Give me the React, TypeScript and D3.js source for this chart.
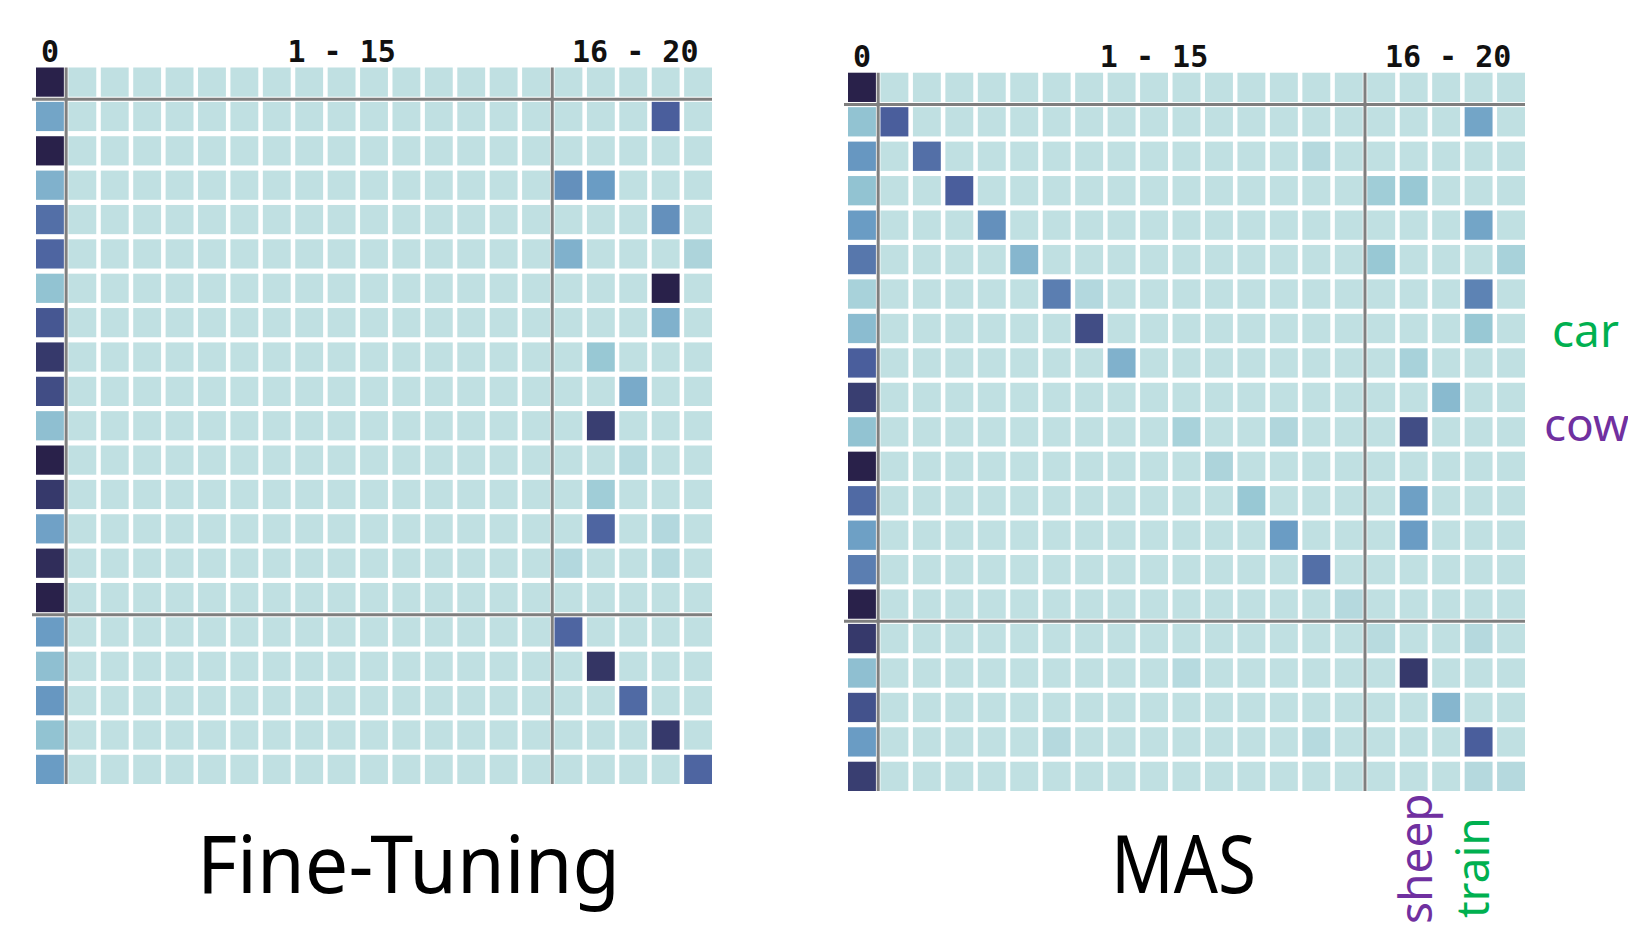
import { select, scaleBand, scaleLinear, range } from "d3";
import React, { useEffect, useRef } from "react";

const SIZE = 21;
const groupLabels = ["0", "1 - 15", "16 - 20"];
const groupLabelCols = [0, 9, 18];
const groupBreaks = [1, 16];

// column 0 (background class) of each confusion matrix, rows 0..20
const fineTuningFirstCol = [
  1.0, 0.45, 1.0, 0.38, 0.68, 0.72, 0.28, 0.78, 0.9, 0.82, 0.3, 1.0, 0.9, 0.47,
  0.95, 1.0, 0.5, 0.3, 0.52, 0.28, 0.5,
];
// [row, col, value] for the other non-empty cells
const fineTuningCells = [
  [1, 19, 0.75], [3, 16, 0.55], [3, 17, 0.5], [4, 19, 0.55], [5, 16, 0.38],
  [5, 20, 0.12], [6, 19, 1.0], [7, 19, 0.38], [8, 17, 0.25], [9, 18, 0.42],
  [10, 17, 0.88], [11, 18, 0.06], [12, 17, 0.2], [13, 17, 0.72], [13, 19, 0.08],
  [14, 16, 0.08], [14, 19, 0.06], [16, 16, 0.72], [17, 17, 0.92], [18, 18, 0.7],
  [19, 19, 0.9], [20, 20, 0.72],
];

const masFirstCol = [
  1.0, 0.28, 0.52, 0.28, 0.5, 0.65, 0.15, 0.32, 0.75, 0.88, 0.28, 1.0, 0.7, 0.48,
  0.62, 1.0, 0.9, 0.3, 0.8, 0.5, 0.88,
];
const masCells = [
  [1, 1, 0.75], [2, 2, 0.68], [3, 3, 0.75], [4, 4, 0.55], [5, 5, 0.35],
  [6, 6, 0.62], [6, 7, 0.08], [7, 7, 0.82], [8, 8, 0.38], [10, 10, 0.15],
  [10, 13, 0.1], [11, 11, 0.12], [12, 12, 0.25], [13, 13, 0.5], [14, 14, 0.68],
  [15, 15, 0.07], [1, 19, 0.45], [2, 14, 0.07], [3, 16, 0.2], [3, 17, 0.25],
  [4, 19, 0.45], [5, 16, 0.25], [5, 20, 0.15], [6, 19, 0.6], [7, 19, 0.25],
  [8, 17, 0.15], [9, 18, 0.33], [10, 17, 0.82], [12, 17, 0.48], [13, 17, 0.5],
  [16, 16, 0.05], [16, 19, 0.07], [17, 17, 0.9], [17, 10, 0.06], [18, 18, 0.35],
  [19, 19, 0.75], [19, 6, 0.07], [19, 14, 0.06], [20, 19, 0.07], [20, 20, 0.07],
];

const color = scaleLinear<string>()
  .domain([0, 0.25, 0.5, 0.75, 1])
  .range(["#c0e0e2", "#98c8d4", "#6a9cc4", "#4a5e9c", "#29214a"])
  .clamp(true);

const buildCells = (firstCol: number[], cells: number[][]) => {
  const m = range(SIZE).map((r) => range(SIZE).map((c) => (c === 0 ? firstCol[r] : 0)));
  cells.forEach(([r, c, v]) => (m[r][c] = v));
  return m.flatMap((row, r) => row.map((v, c) => ({ r, c, v })));
};

const drawMatrix = (svg, cells, x0, x1, y0, y1) => {
  const x = scaleBand<number>().domain(range(SIZE)).range([x0, x1]).paddingInner(0.14);
  const y = scaleBand<number>().domain(range(SIZE)).range([y0, y1]).paddingInner(0.15);
  const g = svg.append("g");

  g.selectAll("rect")
    .data(cells)
    .enter()
    .append("rect")
    .attr("x", (d) => x(d.c))
    .attr("y", (d) => y(d.r))
    .attr("width", x.bandwidth())
    .attr("height", y.bandwidth())
    .attr("fill", (d) => color(d.v));

  const gapX = (i) => (x(i - 1) + x.bandwidth() + x(i)) / 2;
  const gapY = (i) => (y(i - 1) + y.bandwidth() + y(i)) / 2;

  groupBreaks.forEach((b) => {
    g.append("line")
      .attr("x1", gapX(b)).attr("x2", gapX(b))
      .attr("y1", y0).attr("y2", y1)
      .attr("stroke", "#7f7f7f").attr("stroke-width", 3);
    g.append("line")
      .attr("x1", x0 - 4).attr("x2", x1)
      .attr("y1", gapY(b)).attr("y2", gapY(b))
      .attr("stroke", "#7f7f7f").attr("stroke-width", 3);
  });

  g.selectAll(".group-label")
    .data(groupLabels)
    .enter()
    .append("text")
    .attr("class", "group-label")
    .text((d) => d)
    .attr("x", (_, i) => x(groupLabelCols[i]) + x.bandwidth() / 2 + (i === 2 ? 2 : 0))
    .attr("y", y0 - 5.5)
    .attr("text-anchor", "middle")
    .attr("font-family", "DejaVu Sans Mono")
    .attr("font-weight", "bold")
    .attr("font-size", 30)
    .attr("fill", "#111");
};

const App = () => {
  const svgRef = useRef(null);

  useEffect(() => {
    document.body.style.margin = "0";
    const svg = select(svgRef.current);
    svg.selectAll("*").remove();

    drawMatrix(svg, buildCells(fineTuningFirstCol, fineTuningCells), 36, 712, 67.5, 784);
    drawMatrix(svg, buildCells(masFirstCol, masCells), 848, 1525, 72.7, 791);

    const titles = [
      { text: "Fine-Tuning", x: 408.5, len: 423 },
      { text: "MAS", x: 1183.5, len: 145 },
    ];
    svg.selectAll(".title")
      .data(titles)
      .enter()
      .append("text")
      .attr("class", "title")
      .text((d) => d.text)
      .attr("x", (d) => d.x)
      .attr("y", 893)
      .attr("text-anchor", "middle")
      .attr("textLength", (d) => d.len)
      .attr("lengthAdjust", "spacingAndGlyphs")
      .attr("font-family", "Noto Sans")
      .attr("font-size", 80)
      .attr("fill", "#000");

    const notes = [
      { text: "car", x: 1552, y: 347, fill: "#00b050", rotate: false },
      { text: "cow", x: 1544, y: 441, fill: "#7030a0", rotate: false },
      { text: "sheep", x: 1431.5, y: 924, fill: "#7030a0", rotate: true },
      { text: "train", x: 1488.5, y: 918, fill: "#00b050", rotate: true },
    ];
    svg.selectAll(".note")
      .data(notes)
      .enter()
      .append("text")
      .attr("class", "note")
      .text((d) => d.text)
      .attr("transform", (d) => `translate(${d.x},${d.y})${d.rotate ? " rotate(-90)" : ""}`)
      .attr("font-family", "Noto Sans")
      .attr("font-size", 46)
      .attr("fill", (d) => d.fill);
  }, []);

  return (
    <svg
      ref={svgRef}
      width={1628}
      height={926}
      style={{ position: "absolute", left: 0, top: 0, background: "#fff" }}
    />
  );
};

export default App;
